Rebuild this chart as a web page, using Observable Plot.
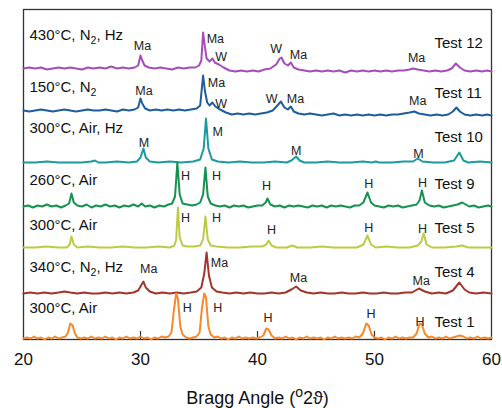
<!DOCTYPE html>
<html><head><meta charset="utf-8">
<script src="https://cdn.jsdelivr.net/npm/d3@7"></script>
<script src="https://cdn.jsdelivr.net/npm/@observablehq/plot@0.6"></script>
<style>body{margin:0;background:#fff;font-family:"Liberation Sans",Arial,sans-serif}</style>
</head><body><div id="chart"></div>
<script>
const testNames = ["Test 12","Test 11","Test 10","Test 9","Test 5","Test 4","Test 1"];
const conditions = ["430°C, N2, Hz","150°C, N2","300°C, Air, Hz","260°C, Air","300°C, Air","340°C, N2, Hz","300°C, Air"];
const offsets = [271,229,177,133,92,46,1];
const colors = ["#a64cba","#1d5c9e","#1b9aa0","#159150","#bccb45","#a3342a","#f5892c"];
const conditionLevel = [33,23,34,26,22,26,30];
const testLevel = [25,17,25,22,19,21,16];
const xTicks = [20,30,40,50,60];
const innerTicks = [30,40,50];
const axisTitle = "Bragg Angle (o2ϑ)";

const test12 = [[20,0],[20.5,1],[21,0],[21.5,1],[22,-1],[22.5,0],[23,1],[23.5,0],[24,1],[24.5,0],[25,-1],[25.5,1],[26,0],[26.5,1],[27,0],[27.5,2],[28,0],[28.5,1],[29,0],[29.5,1],[29.8,3],[30,13],[30.15,8],[30.35,3],[30.7,1],[31.2,0],[31.7,1],[32.2,0],[32.7,-1],[33.2,1],[33.7,0],[34.2,1],[34.7,1],[35.0,3],[35.2,8],[35.35,36],[35.5,22],[35.65,10],[35.9,7],[36.15,10],[36.35,6],[36.7,4],[37.1,1],[37.6,-2],[38.1,-3],[38.6,-2],[39.1,-3],[39.6,-2],[40.1,-3],[40.6,-1],[41.1,0],[41.6,4],[41.9,10],[42.05,11],[42.3,5],[42.6,3],[42.85,6],[43.1,1],[43.5,-1],[44,-2],[44.5,-3],[45,-2],[45.5,-3],[46,-2],[46.5,-3],[47,-2],[47.5,-4],[48,-2],[48.5,-3],[49,-2],[49.5,-3],[50,-2],[50.5,-3],[51,-2],[51.5,-3],[52,-2],[52.5,-2],[53,-1],[53.3,0],[53.7,-1],[54.2,-2],[54.7,-3],[55.2,-2],[55.7,-3],[56.2,-2],[56.6,0],[56.95,5],[57.3,1],[57.7,-2],[58.2,-3],[58.7,-2],[59.2,-3],[59.6,-2],[60,-3]];
const test11 = [[20,0],[20.5,-1],[21,0],[21.5,1],[22,0],[22.5,-1],[23,0],[23.5,1],[24,0],[24.5,-1],[25,0],[25.5,1],[26,0],[26.5,0],[27,1],[27.5,0],[28,-1],[28.5,1],[29,0],[29.5,1],[29.8,3],[30.0,12],[30.15,7],[30.4,2],[30.8,0],[31.3,1],[31.8,0],[32.3,1],[32.8,0],[33.3,1],[33.8,0],[34.3,1],[34.8,2],[35.1,5],[35.35,35],[35.5,20],[35.7,8],[35.9,5],[36.15,8],[36.4,4],[36.8,1],[37.3,-2],[37.8,-4],[38.3,-3],[38.8,-4],[39.3,-3],[39.8,-4],[40.3,-3],[40.8,-2],[41.3,0],[41.7,5],[42.0,9],[42.3,3],[42.6,1],[42.85,4],[43.1,-1],[43.5,-3],[44,-4],[44.5,-3],[45,-4],[45.5,-5],[46,-4],[46.5,-3],[47,-5],[47.5,-4],[48,-5],[48.5,-4],[49,-5],[49.5,-4],[50,-5],[50.5,-4],[51,-5],[51.5,-4],[52,-4],[52.5,-3],[53,-2],[53.4,-1],[53.8,-3],[54.3,-4],[54.8,-5],[55.3,-4],[55.8,-5],[56.3,-4],[56.7,-1],[57.0,3],[57.3,-1],[57.7,-4],[58.2,-5],[58.7,-4],[59.2,-5],[59.6,-4],[60,-5]];
const test10 = [[20,0],[21,0],[22,1],[23,0],[24,0],[25,0],[25.8,1],[26.1,2],[26.4,0],[27,0],[28,1],[29,0],[29.7,1],[30.0,5],[30.25,14],[30.45,5],[30.8,1],[31.5,0],[32.5,1],[33.5,0],[34.5,1],[35.1,3],[35.4,14],[35.6,44],[35.8,14],[36.1,3],[36.6,1],[37.5,0],[38.5,1],[39.5,0],[40.5,0],[41.5,1],[42.5,0],[42.9,2],[43.3,6],[43.6,2],[44,0],[45,0],[46,1],[47,0],[48,0],[49,1],[49.8,0],[50.1,1],[50.4,0],[51.5,0],[52.5,1],[53.3,1],[53.7,4],[54.1,1],[55,0],[56,0],[56.8,2],[57.25,10],[57.6,2],[58,0],[59,1],[60,0]];
const test9 = [[20,0],[20.4,1],[20.8,-1],[21.2,1],[21.6,0],[22,2],[22.4,0],[22.8,1],[23.2,-1],[23.6,1],[23.9,3],[24.1,13],[24.3,4],[24.6,1],[25,0],[25.4,2],[25.8,-1],[26.2,1],[26.6,0],[27,2],[27.4,0],[27.8,1],[28.2,-1],[28.6,1],[29,0],[29.4,2],[29.8,0],[30.1,3],[30.4,0],[30.8,1],[31.2,-1],[31.6,1],[32,0],[32.4,2],[32.7,3],[32.95,10],[33.15,44],[33.35,12],[33.6,3],[34,2],[34.4,1],[34.8,2],[35.1,4],[35.35,12],[35.55,39],[35.75,10],[36,3],[36.4,1],[36.8,0],[37.2,1],[37.6,-1],[38,1],[38.4,0],[38.8,1],[39.2,-1],[39.6,0],[40,1],[40.4,1],[40.7,4],[40.85,8],[41.1,2],[41.5,0],[41.9,1],[42.3,-1],[42.7,1],[43.1,0],[43.5,1],[43.9,0],[44.3,-1],[44.7,1],[45.1,0],[45.5,1],[45.9,-1],[46.3,1],[46.7,0],[47.1,1],[47.5,0],[47.9,-1],[48.3,1],[48.7,1],[49.05,4],[49.4,14],[49.7,4],[50,1],[50.4,0],[50.8,-1],[51.2,1],[51.6,0],[52,1],[52.4,-1],[52.8,0],[53.2,1],[53.6,2],[53.85,6],[54.05,16],[54.3,4],[54.7,1],[55.1,0],[55.5,1],[55.9,-1],[56.3,0],[56.7,1],[57.1,2],[57.5,4],[57.8,2],[58.1,0],[58.5,1],[58.9,-1],[59.3,0],[59.7,1],[60,0]];
const test5 = [[20,0],[21,0],[22,1],[23,0],[23.7,0],[23.95,3],[24.1,11],[24.3,3],[24.6,0],[25.5,1],[26.5,0],[27.5,0],[28.5,1],[29.5,0],[30.5,0],[31.5,1],[32.5,0],[32.9,2],[33.05,8],[33.2,40],[33.35,10],[33.6,2],[34,1],[34.6,1],[35.1,2],[35.35,8],[35.55,31],[35.75,8],[36,2],[36.5,1],[37.5,0],[38.5,0],[39.5,1],[40.4,1],[40.75,3],[40.95,7],[41.2,2],[41.6,0],[42.5,0],[43.0,2],[43.4,0],[44.5,0],[45.5,1],[46.5,0],[47.5,0],[48.5,0],[49.05,3],[49.4,12],[49.7,3],[50.1,0],[51,1],[52,0],[53,0],[53.7,2],[54.0,6],[54.2,14],[54.45,3],[54.9,0],[56,0],[57,1],[57.5,2],[58,0],[59,0],[60,0]];
const test4 = [[20,0],[20.6,1],[21.2,0],[21.8,1],[22.4,0],[23,1],[23.5,2],[24,1],[24.6,0],[25.2,1],[25.8,0],[26.4,0],[27,1],[27.6,0],[28.2,1],[28.8,0],[29.4,1],[29.8,3],[30.1,9],[30.25,12],[30.45,6],[30.8,2],[31.3,0],[31.9,1],[32.5,0],[33.1,1],[33.7,0],[34.3,1],[34.8,2],[35.2,6],[35.45,20],[35.65,41],[35.85,18],[36.1,6],[36.5,2],[37,1],[37.6,0],[38.2,1],[38.8,0],[39.4,1],[40,0],[40.6,0],[41.2,1],[41.8,0],[42.4,1],[42.9,4],[43.3,7],[43.7,3],[44.2,1],[44.8,0],[45.4,1],[46,0],[46.6,0],[47.2,1],[47.8,0],[48.4,0],[49,1],[49.6,0],[50.2,0],[50.8,1],[51.4,0],[52,0],[52.6,1],[53.2,1],[53.8,5],[54.3,2],[54.9,0],[55.5,1],[56.1,0],[56.7,3],[57.25,11],[57.7,4],[58.1,1],[58.7,0],[59.3,1],[60,0]];
const test1 = [[20,0],[20.3,1],[20.6,0],[20.9,2],[21.2,0],[21.5,1],[21.8,-1],[22.1,1],[22.4,0],[22.7,2],[23,0],[23.3,1],[23.6,2],[23.8,6],[24.0,15],[24.2,13],[24.4,5],[24.6,1],[24.9,0],[25.2,1],[25.5,0],[25.8,2],[26.1,0],[26.4,1],[26.7,0],[27,2],[27.3,0],[27.6,1],[27.9,-1],[28.2,1],[28.5,0],[28.8,2],[29.1,0],[29.4,1],[29.7,0],[30,2],[30.3,0],[30.6,1],[30.9,-1],[31.2,1],[31.5,0],[31.8,2],[32.1,1],[32.4,2],[32.65,6],[32.85,28],[33.05,45],[33.2,40],[33.4,12],[33.6,4],[33.9,1],[34.2,0],[34.5,1],[34.8,2],[35.05,6],[35.25,30],[35.45,45],[35.6,41],[35.8,12],[36.0,4],[36.3,1],[36.6,2],[36.9,0],[37.2,1],[37.5,-1],[37.8,1],[38.1,0],[38.4,2],[38.7,0],[39,1],[39.3,0],[39.6,1],[39.9,0],[40.2,1],[40.5,3],[40.75,10],[40.95,9],[41.2,3],[41.5,0],[41.8,1],[42.1,0],[42.4,2],[42.7,0],[43,1],[43.3,-1],[43.6,1],[43.9,0],[44.2,2],[44.5,0],[44.8,1],[45.1,0],[45.4,1],[45.7,-1],[46,1],[46.3,0],[46.6,2],[46.9,0],[47.2,1],[47.5,0],[47.8,1],[48.1,0],[48.4,2],[48.7,1],[49,5],[49.3,15],[49.5,13],[49.75,4],[50,1],[50.3,0],[50.6,1],[50.9,-1],[51.2,1],[51.5,0],[51.8,2],[52.1,0],[52.4,1],[52.7,0],[53,1],[53.3,1],[53.6,5],[53.85,15],[54.05,14],[54.3,5],[54.6,1],[54.9,2],[55.2,0],[55.5,1],[55.8,0],[56.1,2],[56.4,0],[56.7,1],[57,2],[57.3,3],[57.6,2],[57.9,0],[58.2,1],[58.5,0],[58.8,2],[59.1,0],[59.4,1],[59.7,0],[60,1]];
const series = [test12,test11,test10,test9,test5,test4,test1];

const peaks12 = [[30.17,23,"Ma"],[36.4,30,"Ma"],[36.9,12,"W"],[41.6,20,"W"],[43.5,14,"Ma"],[53.6,11,"Ma"]];
const peaks11 = [[30.3,20,"Ma"],[36.5,28,"Ma"],[36.9,7,"W"],[41.2,12,"W"],[43.25,12,"Ma"],[53.7,10,"Ma"]];
const peaks10 = [[30.3,20,"M"],[36.6,31,"M"],[43.3,12,"M"],[53.76,9,"M"]];
const peaks9 = [[33.85,31,"H"],[36.5,31,"H"],[40.77,21,"H"],[49.5,23,"H"],[54.1,24,"H"]];
const peaks5 = [[33.85,30,"H"],[36.5,30,"H"],[41.2,18,"H"],[49.5,20,"H"],[54.1,19,"H"]];
const peaks4 = [[30.7,25,"Ma"],[36.75,31,"Ma"],[43.5,16,"Ma"],[54.0,13,"Ma"]];
const peaks1 = [[34.0,31,"H"],[36.6,31,"H"],[40.9,21,"H"],[49.7,25,"H"],[53.9,17,"H"]];
const peakSets = [peaks12,peaks11,peaks10,peaks9,peaks5,peaks4,peaks1];

const rows = series.flatMap((s,i)=>s.map(([a,v])=>({test:testNames[i], angle:a, y:offsets[i]+v})));
const peakRows = peakSets.flatMap((s,i)=>s.map(([a,v,t])=>({angle:a, y:offsets[i]+v, label:t})));
const traceRows = testNames.map((t,i)=>({test:t, cond:conditions[i], yc:offsets[i]+conditionLevel[i], yt:offsets[i]+testLevel[i]}));

const font = "'Liberation Sans', Arial, sans-serif";
const chart = Plot.plot({
  width: 502, height: 408,
  marginLeft: 23, marginRight: 11, marginTop: 9, marginBottom: 69,
  style: {fontFamily: font, background: "#fff", color: "#111"},
  x: {domain: [20,60]},
  y: {domain: [0,330], axis: null},
  color: {domain: testNames, range: colors},
  marks: [
    Plot.frame({stroke: "#333", strokeWidth: 1.3}),
    Plot.ruleX(innerTicks, {x: d=>d, y1: 0, y2: 8, stroke: "#333", strokeWidth: 1.2}),
    Plot.line(rows, {x: "angle", y: "y", z: "test", stroke: "test", strokeWidth: 2, strokeLinejoin: "round"}),
    Plot.axisX({ticks: xTicks, tickSize: 0, tickPadding: 13, fontSize: 17, label: null, tickFormat: d=>String(d)}),
    Plot.text(peakRows, {x: "angle", y: "y", text: "label", fontSize: 12.5, fill: "#222"}),
    Plot.text(traceRows, {frameAnchor: "left", y: "yc", text: "cond", textAnchor: "start", dx: 6, fontSize: 15, fill: "#111"}),
    Plot.text(traceRows, {frameAnchor: "right", y: "yt", text: "test", textAnchor: "start", dx: -57, fontSize: 15, fill: "#111"}),
    Plot.text([axisTitle], {frameAnchor: "bottom", lineAnchor: "middle", text: d=>d, dy: 59, fontSize: 18, fill: "#111"})
  ]
});
// subscripts / superscripts
chart.querySelectorAll("text").forEach(el => {
  const s = el.textContent;
  const ns = "http://www.w3.org/2000/svg";
  const mk = (t, attrs) => { const ts = document.createElementNS(ns, "tspan"); ts.textContent = t; for (const k in attrs) ts.setAttribute(k, attrs[k]); return ts; };
  if (el.children.length === 0 && s.includes("N2")) {
    const [a, b] = s.split("N2");
    el.textContent = "";
    el.appendChild(mk(a + "N", {}));
    el.appendChild(mk("2", {dy: 4, "font-size": "10.5"}));
    el.appendChild(mk(b, {dy: -4}));
  } else if (el.children.length === 0 && s === axisTitle) {
    el.textContent = "";
    el.appendChild(mk("Bragg Angle (", {}));
    el.appendChild(mk("o", {dy: -7, "font-size": "14"}));
    el.appendChild(mk("2ϑ)", {dy: 7}));
  }
});
document.getElementById("chart").appendChild(chart);
</script></body></html>
